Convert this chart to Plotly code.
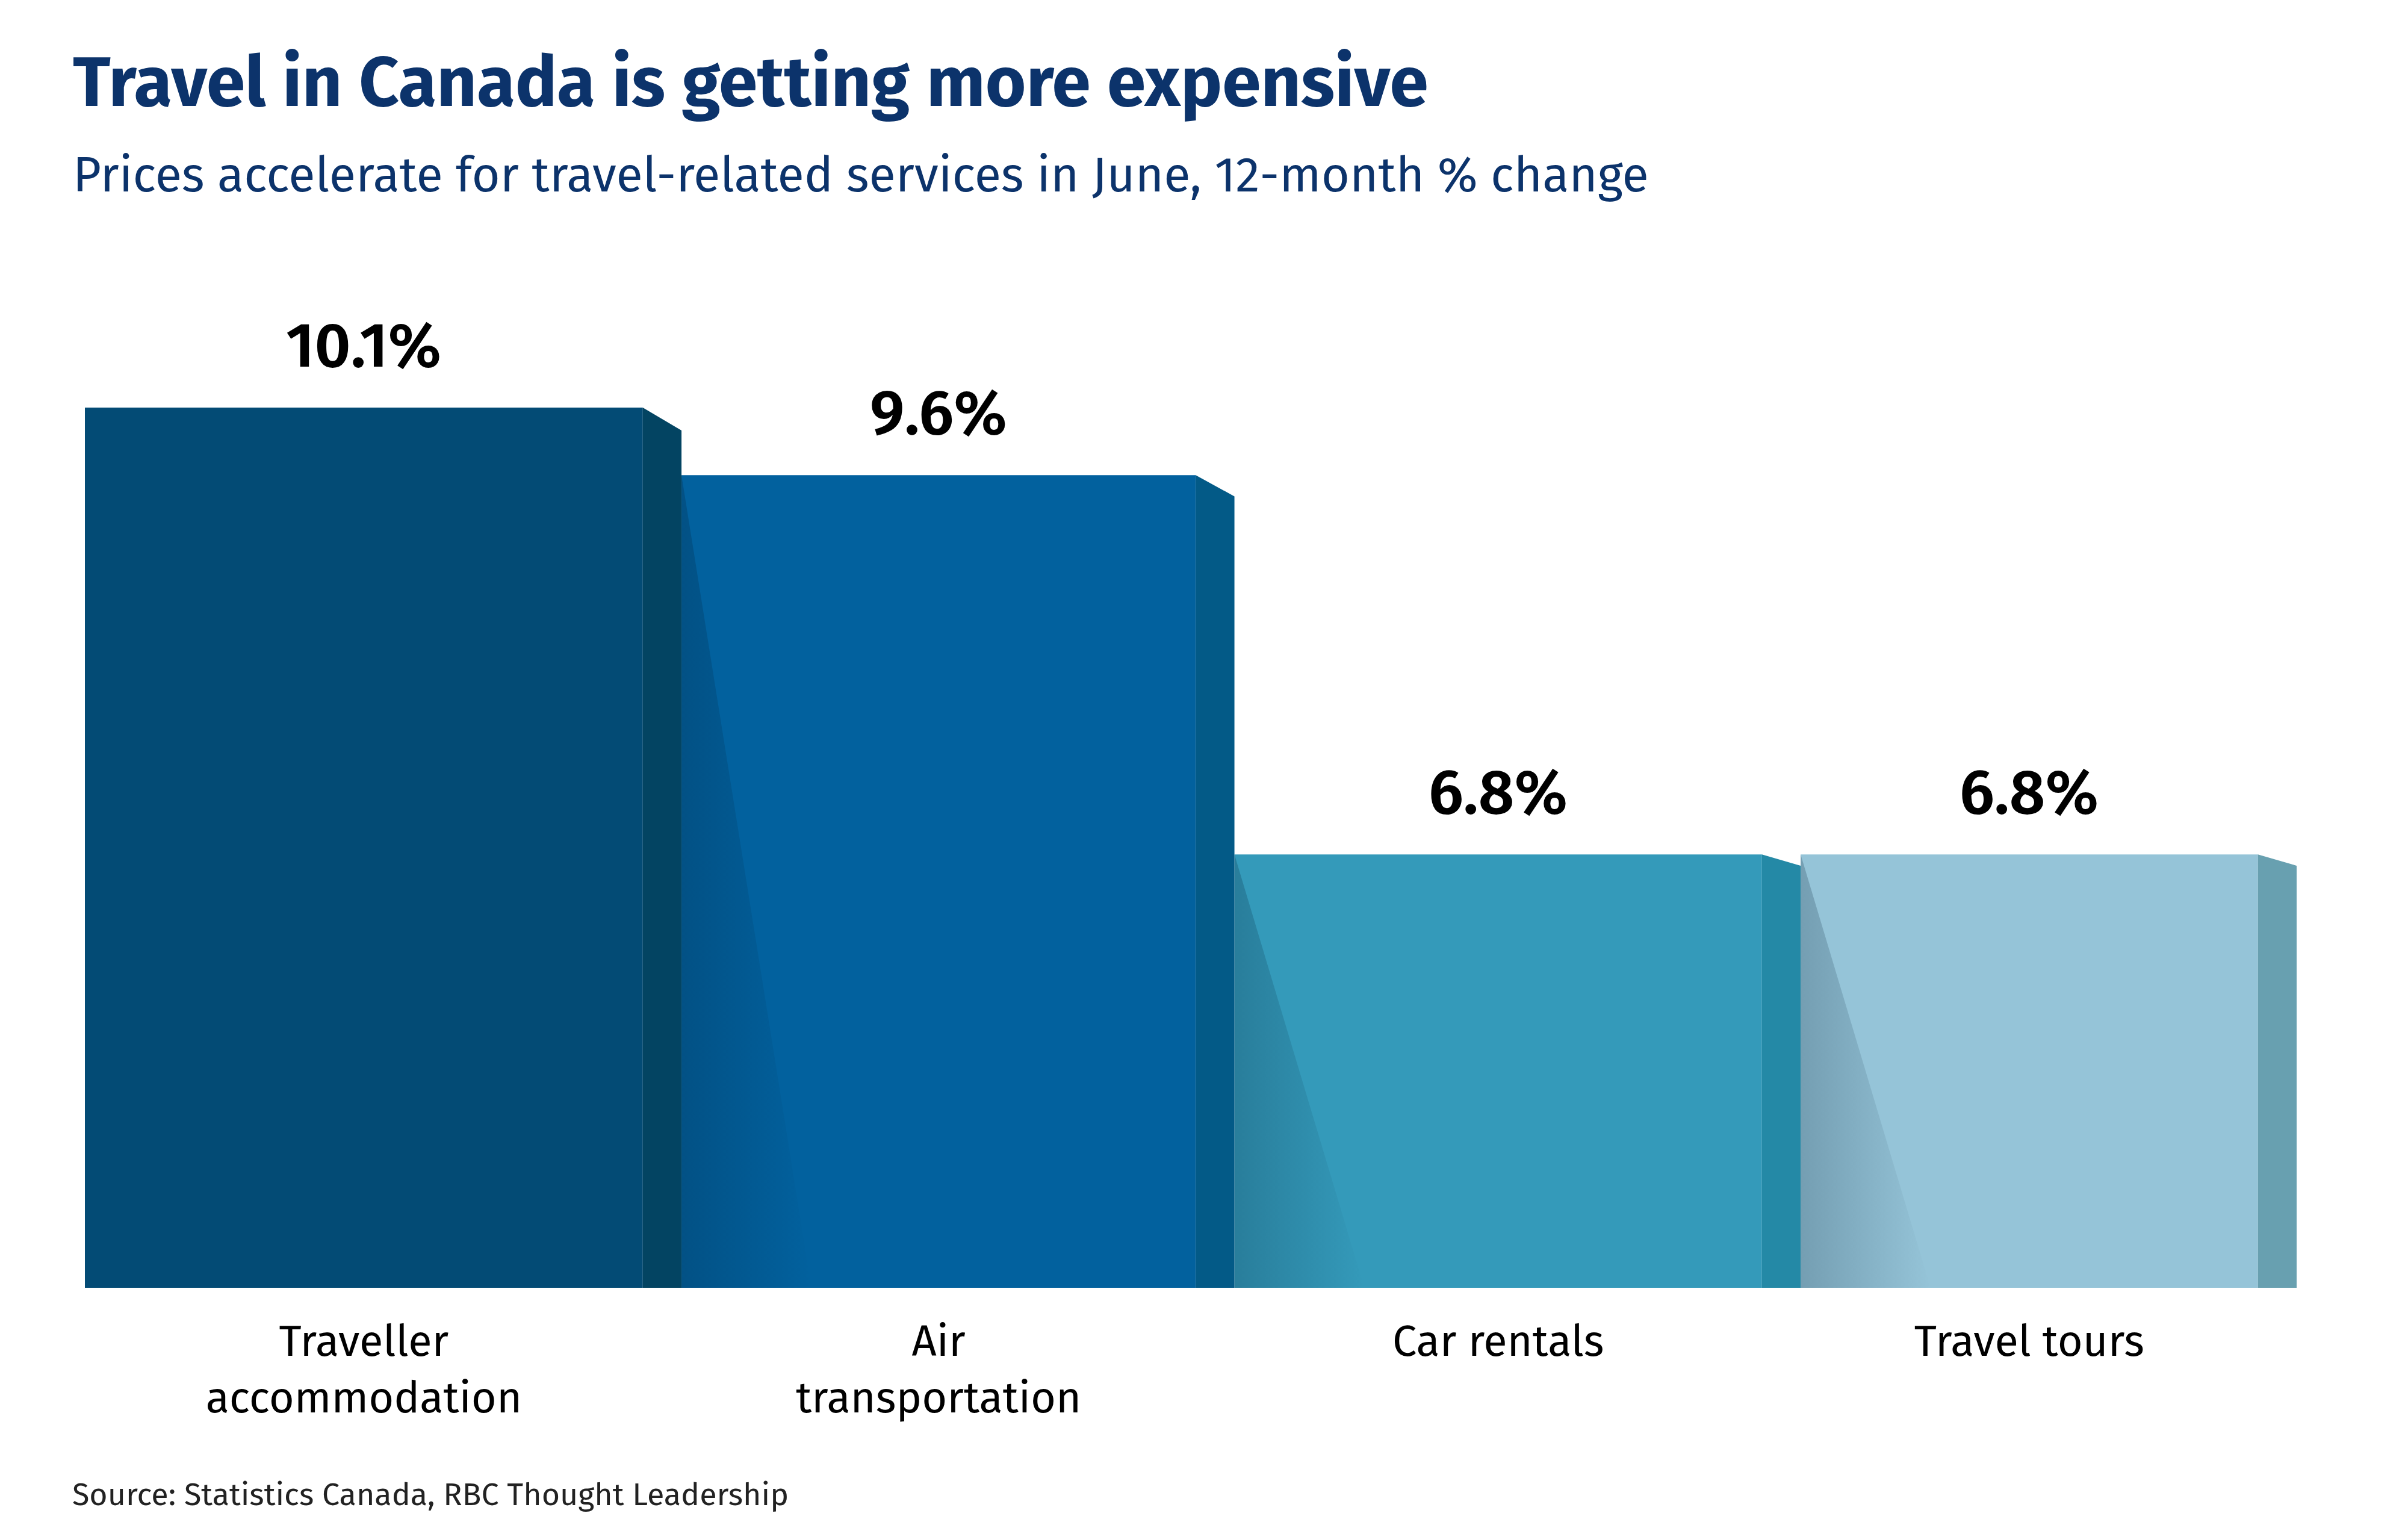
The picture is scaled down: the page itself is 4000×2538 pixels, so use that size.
import plotly.graph_objects as go

#%% data
categories = ["Traveller<br>accommodation", "Air<br>transportation", "Car rentals", "Travel tours"]
values = [10.1, 9.6, 6.8, 6.8]

title = "Travel in Canada is getting more expensive"
subtitle = "Prices accelerate for travel-related services in June, 12-month % change"
source = "Source: Statistics Canada, RBC Thought Leadership"

#%% styles
front_colors = ["#034b75", "#02619e", "#349aba", "#95c4d8"]
side_colors = ["#034462", "#035a87", "#2489a6", "#68a0b0"]
front_widths = [1.009, 0.930, 0.954, 0.827]   # the original graphic has uneven bars
SIDE = 0.07           # depth of the side face
navy = "#0c336b"
FONT = "Fira Sans, Roboto, sans-serif"

Y0, Y1 = 3.6, 11.74   # value axis is cut like in the original graphic
SLANT = 0.026         # how much the top of the side face drops
SHADOW = 0.235        # width of the cast shadow at the bottom

fig = go.Figure()
lefts = []
pos = 0.0
for w in front_widths:
    lefts.append(pos)
    pos += w + SIDE
centers = [l + w / 2 for l, w in zip(lefts, front_widths)]

fig.add_trace(go.Bar(x=centers, y=values, width=front_widths,
                     marker=dict(color=front_colors, line=dict(width=0)),
                     hoverinfo='skip'))

# cast shadows on the following bars
for i in range(1, len(values)):
    xl = lefts[i]
    fig.add_trace(go.Scatter(
        x=[xl, xl + SHADOW, xl, xl], y=[values[i], Y0, Y0, values[i]],
        mode='lines', line=dict(width=0), fill='toself',
        fillgradient=dict(type='horizontal',
                          colorscale=[[0, 'rgba(0,25,45,0.22)'], [1, 'rgba(0,25,45,0)']]),
        hoverinfo='skip'))

# side faces
for i, v in enumerate(values):
    xr = lefts[i] + front_widths[i]
    xe = xr + SIDE
    drop = SLANT * (v - Y0)
    fig.add_trace(go.Scatter(
        x=[xr, xe, xe, xr, xr], y=[v, v - drop, Y0, Y0, v],
        mode='lines', line=dict(width=0), fill='toself',
        fillcolor=side_colors[i], hoverinfo='skip'))

annotations = []
for c, v in zip(centers, values):
    annotations.append(dict(x=c, y=v, text="{:.1f}%".format(v), showarrow=False,
                            yanchor='bottom', yshift=38,
                            font=dict(family=FONT, size=104, color='black', weight=600)))

annotations += [
    dict(text=title, xref='paper', yref='paper', x=-0.006, y=1.054,
         xanchor='left', yanchor='bottom', showarrow=False,
         font=dict(family=FONT, size=116, color=navy, weight=700)),
    dict(text=subtitle, xref='paper', yref='paper', x=-0.006, y=0.982,
         xanchor='left', yanchor='bottom', showarrow=False,
         font=dict(family=FONT, size=81, color=navy)),
    dict(text=source, xref='paper', yref='paper', x=-0.0062, y=-0.206,
         xanchor='left', yanchor='bottom', showarrow=False,
         font=dict(family=FONT, size=52, color='#222222')),
]

fig.update_layout(
    width=4000, height=2538,
    margin=dict(l=133, r=193, t=300, b=407),
    paper_bgcolor='white', plot_bgcolor='white',
    showlegend=False,
    annotations=annotations,
    xaxis=dict(range=[0, pos], tickvals=centers, ticktext=categories,
               showgrid=False, zeroline=False, showline=False, ticks='',
               ticklabelstandoff=40,
               tickfont=dict(family=FONT, size=72, color='black')),
    yaxis=dict(range=[Y0, Y1], visible=False, showgrid=False, zeroline=False),
)

fig.write_html("out.html")
